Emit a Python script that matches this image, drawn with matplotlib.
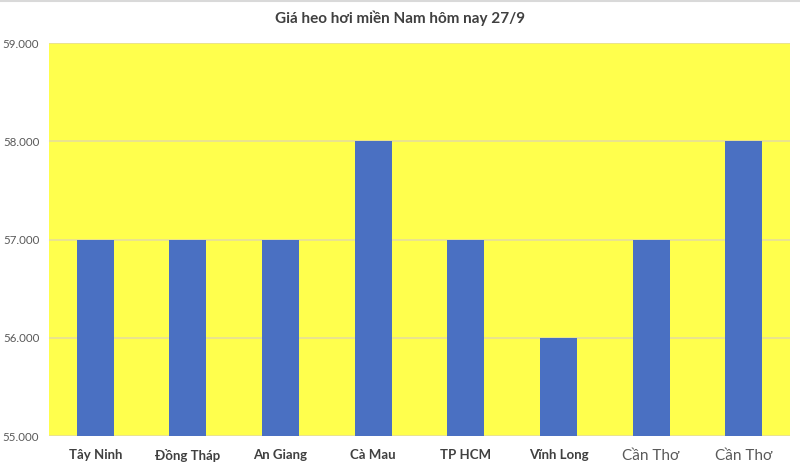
import matplotlib.pyplot as plt
from matplotlib.ticker import FuncFormatter

provinces = ["Tây Ninh", "Đồng Tháp", "An Giang", "Cà Mau",
             "TP HCM", "Vĩnh Long", "Cần Thơ", "Cần Thơ"]
prices = [57000, 57000, 57000, 58000, 57000, 56000, 57000, 58000]
y_ticks = [55000, 56000, 57000, 58000, 59000]

plt.rcParams['font.family'] = ['Lato', 'Noto Sans', 'DejaVu Sans']

fig = plt.figure(figsize=(8, 4.69), dpi=100)
ax = fig.add_axes([49 / 800, 33 / 469, 741 / 800, 393 / 469])
ax.set_facecolor('#FFFF4D')

x = range(len(provinces))
ax.bar(x, prices, width=0.4, color='#4A70C2', zorder=3)

ax.set_xlim(-0.5, len(provinces) - 0.5)
ax.set_ylim(55000, 59000)
ax.set_yticks(y_ticks)
ax.yaxis.set_major_formatter(FuncFormatter(lambda v, p: f"{int(v):,}".replace(",", ".")))
ax.grid(axis='y', color='#E6DE9A', linewidth=1.2, zorder=1)

for s in ax.spines.values():
    s.set_visible(False)
ax.tick_params(axis='both', length=0)
ax.tick_params(axis='y', labelsize=8.3, labelcolor='#595959', pad=7)

ax.set_xticks(list(x))
ax.set_xticklabels(provinces)
for i, lab in enumerate(ax.get_xticklabels()):
    if i >= 6:
        lab.set_fontsize(11)
        lab.set_color('#595959')
    else:
        lab.set_fontsize(9.5)
        lab.set_fontweight('bold')
        lab.set_color('#404040')
ax.tick_params(axis='x', pad=9)

fig.text(0.5, 1 - 18 / 469, "Giá heo hơi miền Nam hôm nay 27/9", ha='center', va='center',
         fontsize=11, fontweight='bold', color='#404040')

fig.add_artist(plt.Line2D([0, 1], [1 - 1.5 / 469, 1 - 1.5 / 469], color='#D9D9D9', linewidth=1.5))

fig.savefig("out.png", dpi=100, facecolor='white')
